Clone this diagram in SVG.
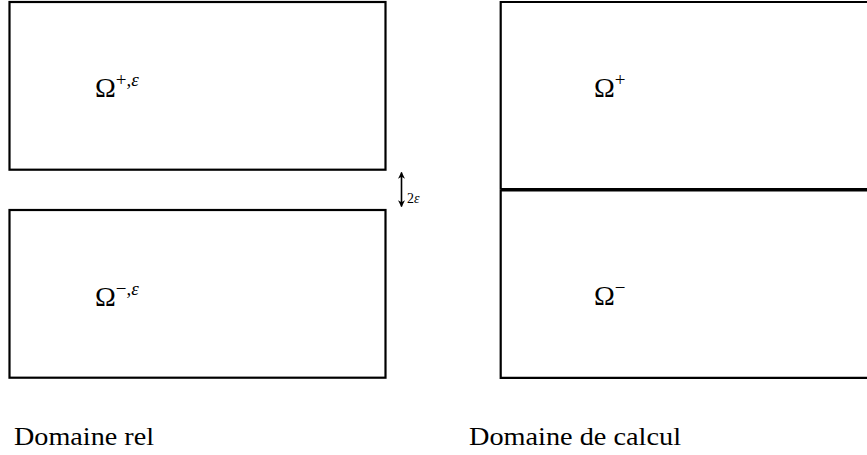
<svg xmlns="http://www.w3.org/2000/svg" width="867" height="455" viewBox="0 0 867 455">
<style>
.box{fill:none;stroke:#000;stroke-width:2.2}
.t{fill:#000}
.it{font-style:italic}
</style>
<defs>
<marker id="ah" viewBox="0 0 10 10" refX="9" refY="5" markerWidth="7" markerHeight="7" markerUnits="userSpaceOnUse" orient="auto-start-reverse">
<path d="M0,0 L10,5 L0,10 L3,5 Z" fill="#000"/>
</marker>
</defs>
<g font-family="Liberation Serif, DejaVu Serif, serif">
<g id="omega-plus-eps">
<rect class="box" x="9.5" y="2" width="376" height="167.7"/>
<text class="t" font-size="28" x="95" y="97">Ω<tspan font-size="19" dy="-11">+,</tspan><tspan font-size="19" class="it">ε</tspan></text>
</g>
<g id="omega-minus-eps">
<rect class="box" x="9.5" y="210" width="376" height="167.7"/>
<text class="t" font-size="28" x="95" y="306">Ω<tspan font-size="19" dy="-11">−,</tspan><tspan font-size="19" class="it">ε</tspan></text>
</g>
<g id="omega-plus">
<path class="box" d="M868,2 H500.7 V189.7"/>
<text class="t" font-size="28" x="594" y="97">Ω<tspan font-size="19" dy="-11">+</tspan></text>
</g>
<g id="omega-minus">
<path class="box" d="M500.7,189.7 V377.8 H868"/>
<text class="t" font-size="28" x="594" y="305">Ω<tspan font-size="19" dy="-11">−</tspan></text>
</g>
<g id="connectors">
<line x1="500.7" y1="189.7" x2="868" y2="189.7" stroke="#000" stroke-width="3.6"/>
<line x1="401.5" y1="172.5" x2="401.5" y2="206.5" stroke="#000" stroke-width="1.6" marker-start="url(#ah)" marker-end="url(#ah)"/>
<text class="t" x="407" y="203" font-size="14">2<tspan class="it">ε</tspan></text>
</g>
<g id="captions">
<text class="t" font-size="26" x="14" y="445" textLength="140" lengthAdjust="spacingAndGlyphs">Domaine rel</text>
<text class="t" font-size="26" x="469" y="445" textLength="212" lengthAdjust="spacingAndGlyphs">Domaine de calcul</text>
</g>
</g>
</svg>
